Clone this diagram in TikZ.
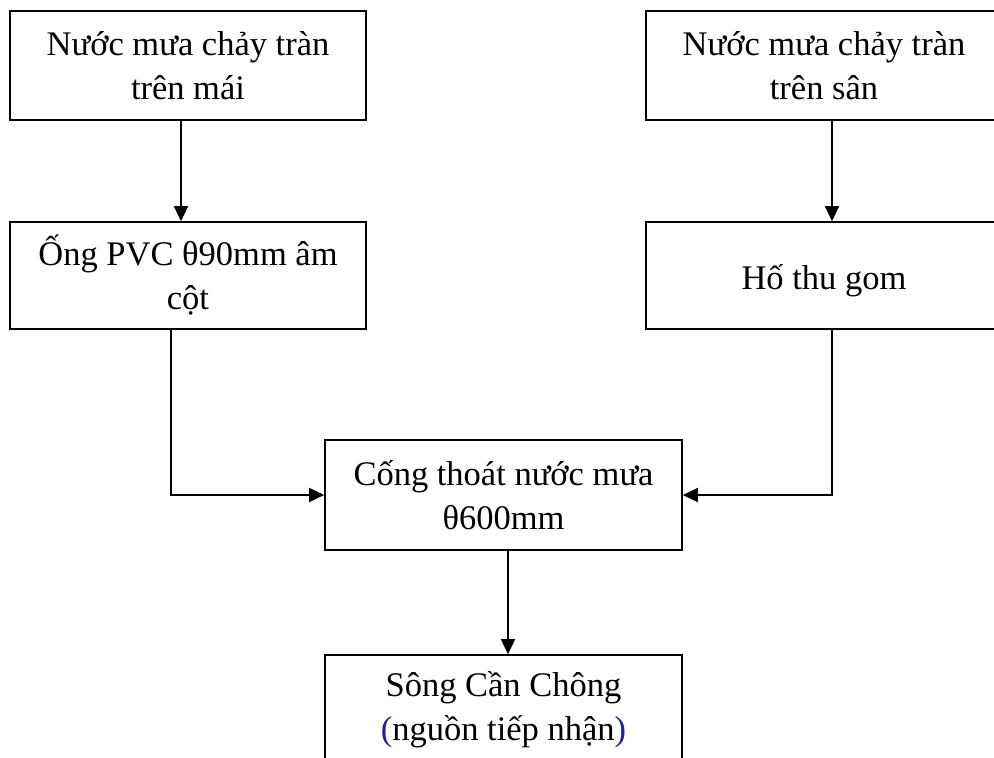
\documentclass[tikz,border=0pt]{standalone}
\usepackage{fontspec}
\setmainfont{Liberation Serif}
\usetikzlibrary{arrows.meta}
\definecolor{parenblue}{rgb}{0.12,0.12,0.62}
\tikzset{
  box/.style={draw, line width=1.6pt, align=center, inner sep=0pt,
    font=\fontsize{34.5}{44}\selectfont},
  wide/.style={box, minimum width=356pt},
  flow/.style={line width=1.3pt, -{Triangle[length=15pt,width=14pt]}}
}
\begin{document}
\begin{tikzpicture}[x=1pt,y=-1pt]
  \clip (0,0) rectangle (994,758);
  \fill[white] (0,0) rectangle (994,758);

  % sources
  \node[wide, minimum height=109pt] (roof) at (188,65.5) {Nước mưa chảy tràn\\trên mái};
  \node[wide, minimum height=109pt] (yard) at (824,65.5) {Nước mưa chảy tràn\\trên sân};

  % collection
  \node[wide, minimum height=107pt] (pipe) at (188,275.5) {Ống PVC θ90mm âm\\cột};
  \node[wide, minimum height=107pt, text height=27pt, text depth=0pt] (pit) at (824,275.5) {Hố thu gom};

  % main drain and receiving water
  \node[box, minimum width=357pt, minimum height=110pt] (drain) at (503.5,495) {Cống thoát nước mưa\\θ600mm};
  \node[box, minimum width=357pt, minimum height=110pt] (river) at (503.5,710)
    {Sông Cần Chông\\{\color{parenblue}(}nguồn tiếp nhận{\color{parenblue})}};

  % connector columns
  \coordinate (cA) at (181,0);
  \coordinate (cB) at (171,0);
  \coordinate (cC) at (832,0);
  \coordinate (cD) at (508,0);

  \draw[flow] (roof.south -| cA) -- (pipe.north -| cA);
  \draw[flow] (yard.south -| cC) -- (pit.north -| cC);
  \draw[flow] (pipe.south -| cB) |- (drain.west);
  \draw[flow] (pit.south -| cC) |- (drain.east);
  \draw[flow] (drain.south -| cD) -- (river.north -| cD);
\end{tikzpicture}
\end{document}
